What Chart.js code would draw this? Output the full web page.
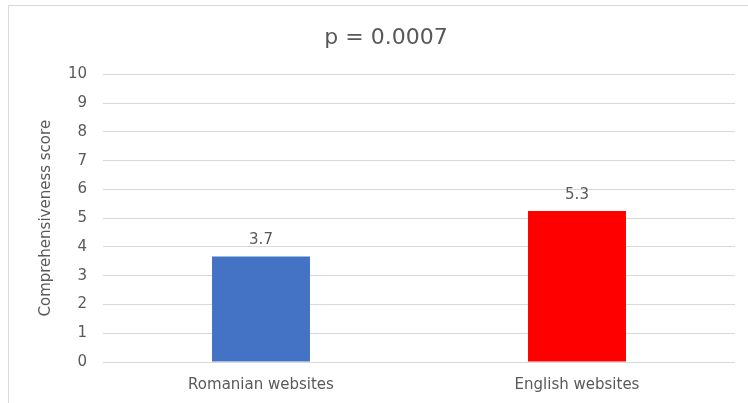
<!DOCTYPE html>
<html>
<head>
<meta charset="utf-8">
<script src="https://cdn.jsdelivr.net/npm/chart.js@4"></script>
<style>
  html, body { margin: 0; padding: 0; background: #fff; }
  #wrap { position: relative; width: 748px; height: 403px; overflow: hidden; }
  #frame { position: absolute; left: 8px; top: 5px; width: 760px; height: 420px; border: 1px solid #d9d9d9; box-sizing: border-box; }
  canvas { position: absolute; left: 0; top: 0; }
</style>
</head>
<body>
<div id="wrap">
  <div id="frame"></div>
  <canvas id="c" width="748" height="403"></canvas>
</div>
<script>
// --- data ---
const categories = ['Romanian websites', 'English websites'];
const scores = [3.67, 5.25];
const barColors = ['#4472C4', '#FF0000'];
const yTicks = [0, 1, 2, 3, 4, 5, 6, 7, 8, 9, 10];

const FONT = '"DejaVu Sans", "Open Sans", sans-serif';
const GREY = '#595959';

// value labels above each bar
const valueLabels = {
  id: 'valueLabels',
  afterDatasetsDraw(chart) {
    const ctx = chart.ctx;
    const meta = chart.getDatasetMeta(0);
    ctx.save();
    ctx.font = '15px ' + FONT;
    ctx.fillStyle = GREY;
    ctx.textAlign = 'center';
    ctx.textBaseline = 'middle';
    meta.data.forEach((bar, i) => {
      ctx.fillText(scores[i].toFixed(1), bar.x, bar.y - 16);
    });
    ctx.restore();
  }
};

new Chart(document.getElementById('c'), {
  type: 'bar',
  data: {
    labels: categories,
    datasets: [{
      data: scores,
      backgroundColor: barColors,
      borderWidth: 0,
      barPercentage: 0.31,
      categoryPercentage: 1
    }]
  },
  options: {
    responsive: false,
    animation: false,
    layout: { padding: { left: 37, right: 13, top: 25, bottom: 0 } },
    plugins: {
      legend: { display: false },
      tooltip: { enabled: false },
      title: {
        display: true,
        text: 'p = 0.0007',
        color: GREY,
        font: { family: FONT, size: 22, weight: 'normal' },
        padding: { top: 0, bottom: 23 }
      }
    },
    scales: {
      x: {
        grid: { display: false },
        border: { display: false },
        ticks: { color: GREY, font: { family: FONT, size: 15 }, padding: 6 },
        afterFit(scale) { scale.height = 41; }
      },
      y: {
        min: 0,
        max: 10,
        afterBuildTicks(scale) { scale.ticks = yTicks.map(v => ({ value: v })); },
        grid: { color: '#d9d9d9', lineWidth: 1, drawTicks: false },
        border: { display: false },
        ticks: { color: GREY, font: { family: FONT, size: 15 }, padding: 16 },
        title: {
          display: true,
          text: 'Comprehensiveness score',
          color: GREY,
          font: { family: FONT, size: 15 },
          padding: { top: 0, bottom: 0 }
        },
        afterFit(scale) { scale.width = 66; }
      }
    }
  },
  plugins: [valueLabels]
});
</script>
</body>
</html>
